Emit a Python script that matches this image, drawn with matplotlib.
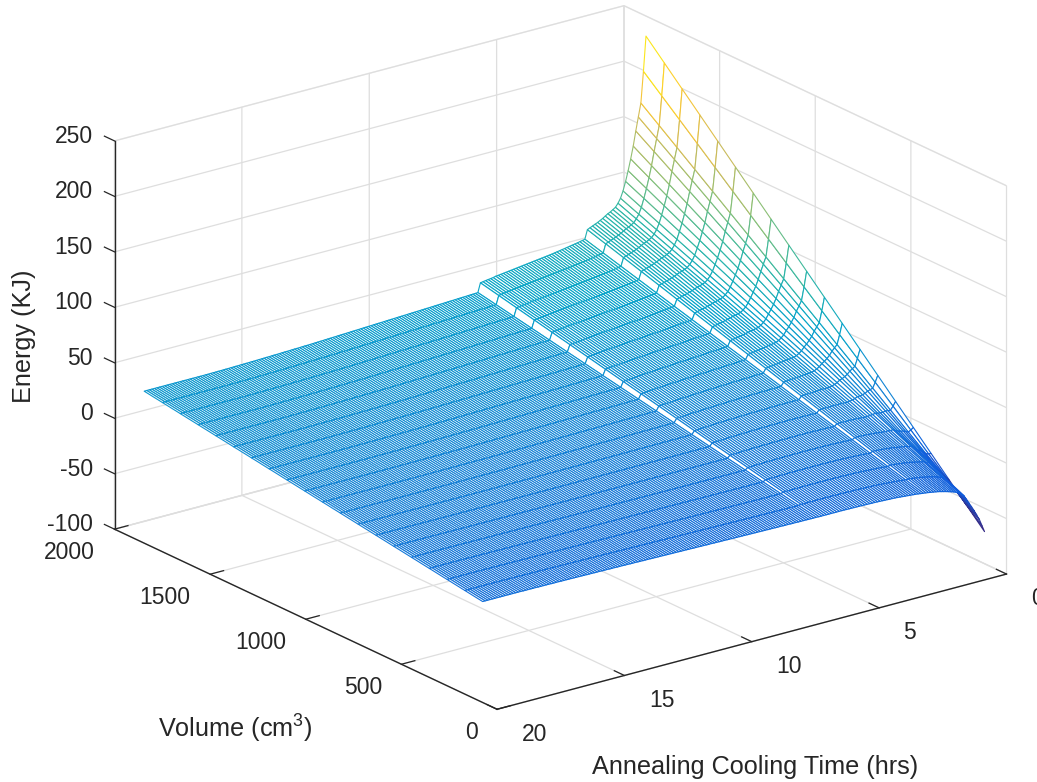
import numpy as np
import matplotlib
matplotlib.use("Agg")
import matplotlib.pyplot as plt
from matplotlib.colors import LinearSegmentedColormap, Normalize
from matplotlib.transforms import ScaledTranslation

plt.rcParams['font.family'] = ['Liberation Sans', 'DejaVu Sans']
plt.rcParams['mathtext.fontset'] = 'custom'
plt.rcParams['mathtext.rm'] = 'Liberation Sans'
plt.rcParams['mathtext.default'] = 'regular'
plt.rcParams['axes.unicode_minus'] = False

# cooling time grid, hrs (0.3 to 20.0, one mesh line every 0.1)
cooling_times = np.arange(3, 201) / 10.0

# mesh lines of constant volume, cm3
volumes = [75, 168, 261, 354, 447, 540, 633, 726, 819, 912,
           1005, 1098, 1191, 1284, 1377, 1470, 1563, 1656, 1749, 1845]

# energy read along the far edge of the surface (largest volume)
energy_far = [
    237, 206, 178, 166, 154, 141, 130, 120, 111, 103,
    97, 93, 90, 88.5, 87, 86, 84.5, 83, 81.8, 80.6,
    79.6, 78.6, 77.6, 76.6, 68.5, 68, 67.5, 67, 66.6, 66.2,
    65.8, 65.4, 65.0, 64.6, 64.2, 63.8, 63.4, 63.0, 62.7, 62.4,
    62.1, 61.8, 61.5, 61.2, 60.9, 60.6, 60.3, 60.0, 59.7, 59.4,
    59.1, 58.8, 58.5, 58.2, 57.9, 57.6, 57.3, 57.0, 56.7, 56.5,
    55.9, 55.6, 55.3, 55.0, 54.6, 54.2,
    46.0, 45.9, 45.8, 45.7, 45.6, 45.5, 45.4, 45.3, 45.2, 45.1,
    45.0, 44.9, 44.8, 44.7, 44.6, 44.5, 44.4, 44.3, 44.2, 44.1,
    44.0, 43.9, 43.8, 43.7, 43.6, 43.5, 43.4, 43.3, 43.2, 43.1,
    43.0, 42.9, 42.8, 42.7, 42.6, 42.5, 42.4, 42.3, 42.2, 42.1,
    42.0, 41.9, 41.8, 41.7, 41.6, 41.5, 41.4, 41.3, 41.2, 41.1,
    41.0, 40.9, 40.8, 40.7, 40.6, 40.5, 40.4, 40.3, 40.2, 40.1,
    40.0, 39.9, 39.8, 39.7, 39.6, 39.5, 39.4, 39.3, 39.3, 39.2,
    39.1, 39.0, 39.0, 38.9, 38.8, 38.7, 38.7, 38.6, 38.5, 38.4,
    38.4, 38.3, 38.2, 38.2, 38.1, 38.0, 38.0, 37.9, 37.8, 37.8,
    37.7, 37.7, 37.6, 37.6, 37.5, 37.5, 37.4, 37.4, 37.3, 37.3,
    37.2, 37.2, 37.2, 37.1, 37.1, 37.1, 37.0, 37.0, 37.0, 37.0,
    37.0, 37.0, 37.0, 37.0, 37.0, 37.0, 37.0, 37.0, 37.0, 37.0,
    37.0, 37.0, 37.0, 37.0, 37.0, 37.0, 37.0, 37.0, 37.0, 37.0,
    37.0, 37.0,
]

# energy read along the near edge of the surface (smallest volume)
energy_near = [
    -66, -60, -54, -49.5, -45, -41, -37, -33, -29, -27,
    -25, -24, -23, -22.2, -21.5, -20.8, -20.2, -19.6, -19, -18.6,
    -18.2, -17.8, -17.4, -17.1, -16.8, -16.5, -16.2, -15.9, -15.7, -15.5,
    -15.3, -15.1, -14.9, -14.7, -14.5, -14.3, -14.2, -14.1, -14.0, -13.9,
    -13.8, -13.7, -13.6, -13.5, -13.5, -13.4, -13.4, -13.3, -13.3, -13.2,
    -13.2, -13.2, -13.1, -13.1, -13.1, -13.0, -13.0, -13.0, -13.0, -13.0,
    -13.0, -13.0, -13.0, -13.0, -13.0, -13.0,
    -12.9, -12.9, -12.9, -12.9, -12.8, -12.8, -12.8, -12.8, -12.7, -12.7,
    -12.7, -12.6, -12.6, -12.6, -12.5, -12.5, -12.5, -12.4, -12.4, -12.4,
    -12.3, -12.3, -12.3, -12.2, -12.2, -12.2, -12.1, -12.1, -12.0, -12.0,
    -12.0, -11.9, -11.9, -11.9, -11.8, -11.8, -11.7, -11.7, -11.7, -11.6,
    -11.6, -11.5, -11.5, -11.5, -11.4, -11.4, -11.3, -11.3, -11.3, -11.2,
    -11.2, -11.1, -11.1, -11.1, -11.0, -11.0, -10.9, -10.9, -10.9, -10.8,
    -10.8, -10.7, -10.7, -10.7, -10.6, -10.6, -10.5, -10.5, -10.5, -10.4,
    -10.4, -10.3, -10.3, -10.3, -10.2, -10.2, -10.1, -10.1, -10.1, -10.0,
    -10.0, -10.0, -9.9, -9.9, -9.9, -9.8, -9.8, -9.8, -9.7, -9.7,
    -9.7, -9.6, -9.6, -9.6, -9.5, -9.5, -9.5, -9.4, -9.4, -9.4,
    -9.4, -9.3, -9.3, -9.3, -9.3, -9.2, -9.2, -9.2, -9.2, -9.2,
    -9.1, -9.1, -9.1, -9.1, -9.1, -9.1, -9.0, -9.0, -9.0, -9.0,
    -9.0, -9.0, -9.0, -9.0, -9.0, -9.0, -9.0, -9.0, -9.0, -9.0,
    -9.0, -9.0,
]

x_ticks = [0, 5, 10, 15, 20]
y_ticks = [0, 500, 1000, 1500, 2000]
z_ticks = [-100, -50, 0, 50, 100, 150, 200, 250]

parula = LinearSegmentedColormap.from_list("parula", [
    "#352A87", "#0F5CDD", "#1481D6", "#06A4CA", "#2EB7A4",
    "#87BF77", "#D1BB59", "#FEC832", "#F9FB0E"])

TEXT = (0.15, 0.15, 0.15)
GRID = (0.87, 0.87, 0.87)


def shift_tick_labels(axis, ha, dx, dy):
    # dx, dy in pixels at 100 dpi
    shift = ScaledTranslation(dx / 100, dy / 100, fig.dpi_scale_trans)
    for tick in axis.get_major_ticks():
        tick.label1.set_ha(ha)
        tick.label1.set_transform(ax.transData + shift)
        # Axis3D.get_major_ticks puts transData back on every draw
        tick.label1.set_transform = lambda t: None


T, V = np.meshgrid(cooling_times, volumes)
far = np.array(energy_far)
near = np.array(energy_near)
# the t=const lines are straight in the picture, so each one runs edge to edge
share = (V - volumes[0]) / (volumes[-1] - volumes[0])
E = near + (far - near) * share

fig = plt.figure(figsize=(10.37, 7.82), dpi=100)
size = 1000
ax = fig.add_axes([(547 - size / 2) / 1037, (411 - size / 2) / 782, size / 1037, size / 782],
                  projection='3d', proj_type='ortho')
ax.patch.set_alpha(0)

colors = parula(Normalize(E.min(), E.max())(E))
surf = ax.plot_surface(T, V, E, rstride=1, cstride=1, facecolors=colors, shade=False)
surf.set_facecolor('white')
surf.set_linewidth(0.8)

ax.set_xlim(20, 0, view_margin=0)
ax.set_ylim(0, 2000, view_margin=0)
ax.set_zlim(-100, 250, view_margin=0)
ax.set_box_aspect((1, 1, 0.6515), zoom=0.963)
ax.view_init(elev=20.7, azim=-126.9)

ax.set_xticks(x_ticks)
ax.set_yticks(y_ticks)
ax.set_zticks(z_ticks)
ax.tick_params(labelsize=16.5, labelcolor=TEXT, color=TEXT)
ax.tick_params(axis='x', pad=10)
ax.tick_params(axis='y', pad=10)
ax.tick_params(axis='z', pad=10)

# z ticks point along the volume axis in the reference
ax.zaxis._get_tickdir = lambda pos: 1

shift_tick_labels(ax.xaxis, 'left', 6, 14)
shift_tick_labels(ax.yaxis, 'right', 5, 13)
shift_tick_labels(ax.zaxis, 'right', 21, 14)

for axis in (ax.xaxis, ax.yaxis, ax.zaxis):
    axis.pane.set_facecolor((1, 1, 1, 0))
    axis.pane.set_edgecolor(GRID)
    axis.line.set_color(TEXT)
    axis.line.set_linewidth(1.0)
    axis._axinfo['grid']['color'] = GRID
    axis._axinfo['grid']['linewidth'] = 0.9
    axis._axinfo['tick']['inward_factor'] = 0.0
    axis._axinfo['tick']['outward_factor'] = 0.33
    axis._axinfo['tick']['linewidth'] = {True: 0.9, False: 0.5}

fig.text(755 / 1037, 1 - 767 / 782, "Annealing Cooling Time (hrs)", fontsize=18.2,
         color=TEXT, ha='center', va='center')
fig.text(235 / 1037, 1 - 729 / 782, "Volume (cm$^3$)", fontsize=18.2,
         color=TEXT, ha='center', va='center')
fig.text(24 / 1037, 1 - 336 / 782, "Energy (KJ)", fontsize=18.2, rotation=90,
         color=TEXT, ha='center', va='center')

fig.savefig("out.png", dpi=100)
